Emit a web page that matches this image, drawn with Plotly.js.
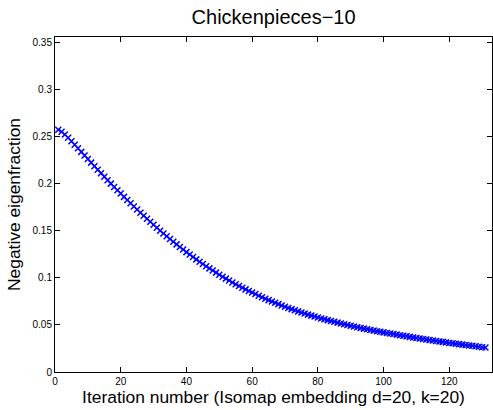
<!DOCTYPE html>
<html>
<head>
<meta charset="utf-8">
<script src="https://cdn.plot.ly/plotly-3.0.1.min.js"></script>
<style>html,body{margin:0;padding:0;background:#fff;}#chart{width:493px;height:410px;}</style>
</head>
<body>
<div id="chart"></div>
<script>
// Iteration numbers 1..131
const iterations = [
  1,2,3,4,5,6,7,8,9,10,11,12,13,14,15,16,17,18,19,20,
  21,22,23,24,25,26,27,28,29,30,31,32,33,34,35,36,37,38,39,40,
  41,42,43,44,45,46,47,48,49,50,51,52,53,54,55,56,57,58,59,60,
  61,62,63,64,65,66,67,68,69,70,71,72,73,74,75,76,77,78,79,80,
  81,82,83,84,85,86,87,88,89,90,91,92,93,94,95,96,97,98,99,100,
  101,102,103,104,105,106,107,108,109,110,111,112,113,114,115,116,117,118,119,120,
  121,122,123,124,125,126,127,128,129,130,131
];
// Negative eigenfraction
const negEigenfraction = [
  0.2575,0.2553,0.2524,0.2490,0.2453,0.2415,0.2377,0.2339,0.2301,0.2263,
  0.2225,0.2187,0.2149,0.2112,0.2075,0.2038,0.2002,0.1966,0.1931,0.1896,
  0.1861,0.1827,0.1793,0.1759,0.1726,0.1693,0.1660,0.1628,0.1596,0.1564,
  0.1533,0.1502,0.1472,0.1442,0.1413,0.1384,0.1356,0.1328,0.1301,0.1274,
  0.1248,0.1222,0.1197,0.1172,0.1148,0.1124,0.1101,0.1078,0.1056,0.1034,
  0.1013,0.0992,0.0972,0.0952,0.0933,0.0914,0.0896,0.0878,0.0861,0.0844,
  0.0828,0.0811,0.0795,0.0779,0.0764,0.0749,0.0735,0.0721,0.0707,0.0694,
  0.0681,0.0668,0.0656,0.0644,0.0632,0.0621,0.0610,0.0599,0.0589,0.0579,
  0.0569,0.0560,0.0551,0.0542,0.0533,0.0525,0.0516,0.0507,0.0499,0.0491,
  0.0483,0.0475,0.0468,0.0461,0.0454,0.0447,0.0440,0.0433,0.0427,0.0421,
  0.0415,0.0409,0.0403,0.0397,0.0391,0.0385,0.0379,0.0373,0.0367,0.0361,
  0.0356,0.0351,0.0346,0.0340,0.0335,0.0330,0.0325,0.0320,0.0315,0.0309,
  0.0305,0.0300,0.0296,0.0291,0.0287,0.0282,0.0278,0.0273,0.0269,0.0264,
  0.0260
];
const xTicks = [0,20,40,60,80,100,120];
const yTicks = [0,0.05,0.1,0.15,0.2,0.25,0.3,0.35];
const yTickLabels = ['0','0.05','0.1','0.15','0.2','0.25','0.3','0.35'];

const font = 'Liberation Sans, Arial, Helvetica, sans-serif';

const trace = {
  x: iterations,
  y: negEigenfraction,
  type: 'scatter',
  mode: 'lines+markers',
  line: {color: '#0000ff', width: 1},
  marker: {symbol: 'x-thin', size: 6, color: '#0000ff', line: {color: '#0000ff', width: 1.5}},
  hoverinfo: 'skip'
};

const layout = {
  width: 493, height: 410,
  margin: {l: 55, r: 1, t: 37, b: 38, pad: 0},
  paper_bgcolor: '#ffffff', plot_bgcolor: '#ffffff',
  showlegend: false,
  font: {family: font, color: '#000'},
  title: {text: 'Chickenpieces\u221210', font: {family: font, size: 20, color: '#000'},
          x: 0.555, xanchor: 'center', y: 0.958, yanchor: 'middle'},
  xaxis: {
    range: [0, 133], tickvals: xTicks, ticktext: xTicks.map(String),
    ticks: 'inside', ticklen: 5, tickcolor: '#000', tickwidth: 1,
    showline: true, linecolor: '#000', linewidth: 1, mirror: 'allticks',
    showgrid: false, zeroline: false,
    tickfont: {family: font, size: 10, color: '#000'},
    title: {text: 'Iteration number (Isomap embedding d=20, k=20)', font: {family: font, size: 17.4, color: '#000'}, standoff: 3}
  },
  yaxis: {
    range: [0, 0.356], tickvals: yTicks, ticktext: yTickLabels,
    ticks: 'inside', ticklen: 5, tickcolor: '#000', tickwidth: 1,
    showline: true, linecolor: '#000', linewidth: 1, mirror: 'allticks',
    showgrid: false, zeroline: false,
    tickfont: {family: font, size: 10, color: '#000'},
    title: {text: 'Negative eigenfraction', font: {family: font, size: 17.4, color: '#000'}, standoff: 7}
  }
};

Plotly.newPlot('chart', [trace], layout, {displayModeBar: false, staticPlot: true});
</script>
</body>
</html>
